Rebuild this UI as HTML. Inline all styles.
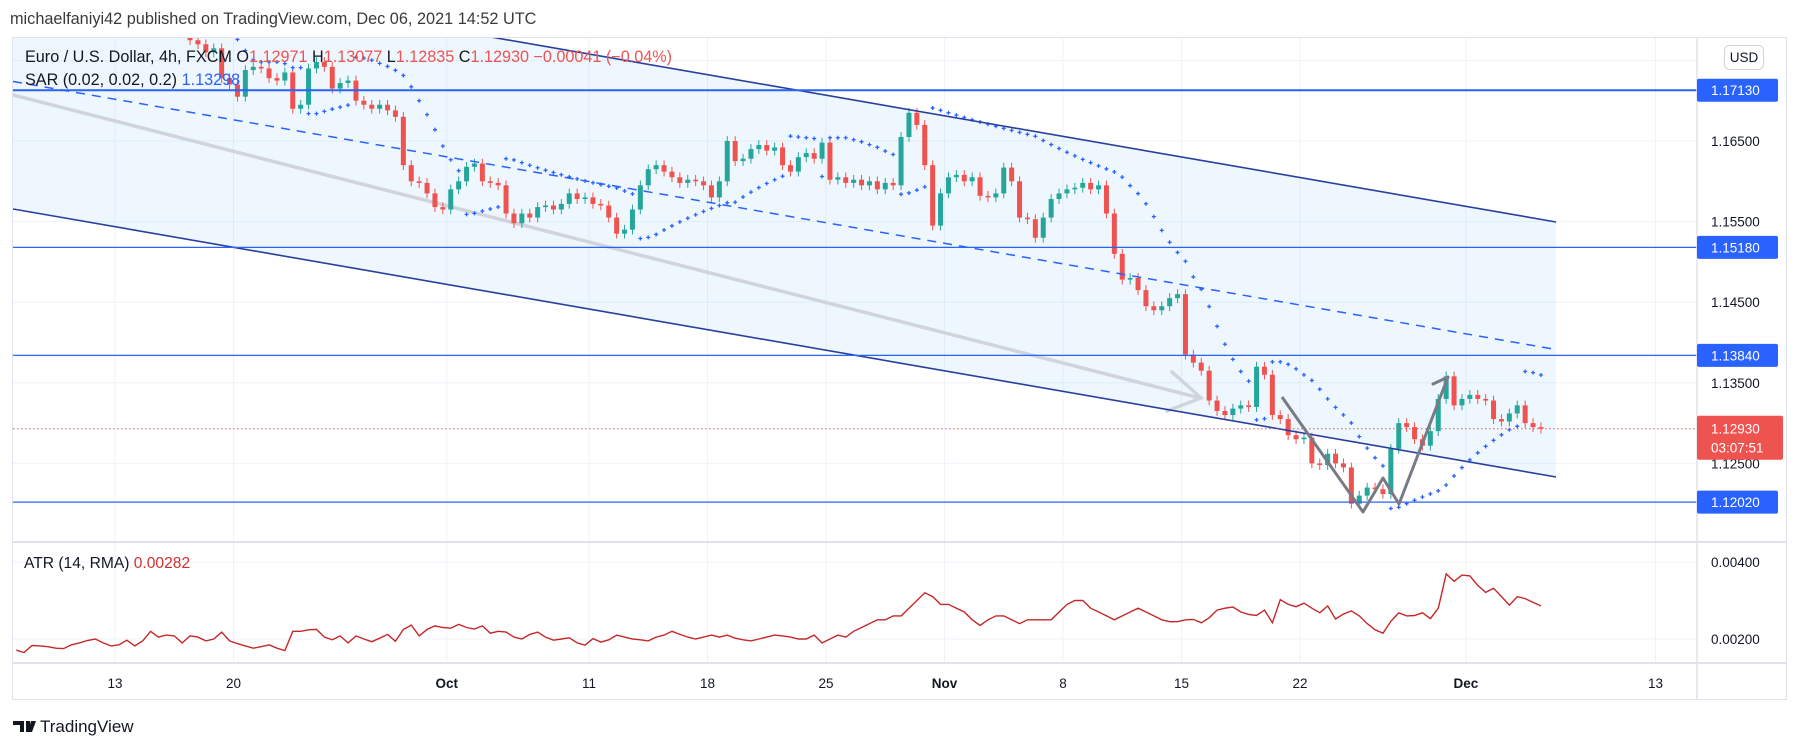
<!DOCTYPE html>
<html><head><meta charset="utf-8"><title>EURUSD 4h</title>
<style>
html,body{margin:0;padding:0;background:#fff;}
svg{display:block;font-family:"Liberation Sans",sans-serif;}
</style></head>
<body>
<svg id="chart" width="1801" height="747" viewBox="0 0 1801 747" xmlns="http://www.w3.org/2000/svg">
<defs>
<clipPath id="mainClip"><rect x="13" y="38" width="1684" height="504"/></clipPath>
<clipPath id="atrClip"><rect x="13" y="542" width="1684" height="121"/></clipPath>
</defs>
<text x="10" y="24" font-size="16.3" fill="#3a3a3a">michaelfaniyi42 published on TradingView.com, Dec 06, 2021 14:52 UTC</text>
<rect x="12.5" y="37.5" width="1774" height="662" fill="#fff" stroke="#e0e3eb"/>
<g id="grid"></g>
<g id="drawBack" clip-path="url(#mainClip)"></g>
<g id="candles" clip-path="url(#mainClip)"></g>
<g id="sar" clip-path="url(#mainClip)"></g>
<g id="drawFront" clip-path="url(#mainClip)"></g>
<g id="atrG" clip-path="url(#atrClip)"></g>
<line x1="13" y1="542" x2="1786" y2="542" stroke="#e0e3eb" stroke-width="2"/>
<line x1="13" y1="663" x2="1786" y2="663" stroke="#e0e3eb" stroke-width="2"/>
<line x1="1697" y1="38" x2="1697" y2="699" stroke="#e0e3eb" stroke-width="1.5"/>
<g id="axes"></g>
<g font-size="16.2">
<text x="25" y="62" fill="#131722">Euro / U.S. Dollar, 4h, FXCM  O<tspan fill="#ef5350">1.12971</tspan>  H<tspan fill="#ef5350">1.13077</tspan>  L<tspan fill="#ef5350">1.12835</tspan>  C<tspan fill="#ef5350">1.12930  −0.00041 (−0.04%)</tspan></text>
<text x="25" y="85" fill="#131722">SAR (0.02, 0.02, 0.2)  <tspan fill="#2962ff">1.13298</tspan></text>
<text x="24" y="568" fill="#131722" font-size="15.6">ATR (14, RMA)  <tspan fill="#d32f2f">0.00282</tspan></text>
</g>
<g>
<rect x="1724.5" y="45.5" width="39" height="24" rx="5" fill="#fff" stroke="#d1d4dc"/>
<text x="1744" y="62" font-size="13.5" fill="#131722" text-anchor="middle">USD</text>
</g>
<g>
<path d="M13 721h11v11h-4v-7h-7z M26 721h4v11h-4z M31 721h5l-4 11h-4z" fill="#131722"/>
<text x="40" y="732" font-size="17" fill="#131722">TradingView</text>
</g>
</svg>
<script>
const closes=[1.1855,1.1850,1.1845,1.1840,1.1825,1.1815,1.1825,1.1830,1.1835,1.1820,1.1830,1.1825,1.1815,
1.1800,1.1805,1.1795,1.1810,1.1800,1.1805,1.1815,1.1810,1.1800,
1.1775,1.1770,1.1760,1.1765,1.1728,1.1720,1.1705,1.1738,1.1742,1.1740,1.1728,1.1725,1.1735,1.1690,1.1695,1.1740,1.1748,1.1742,1.1715,1.1722,1.1725,1.1700,1.1695,1.1690,1.1695,1.1688,1.1680,1.1620,1.1600,1.1598,1.1585,1.1568,1.1565,1.1590,1.1600,1.1618,1.1622,1.1600,1.1598,1.1595,1.1560,1.1548,1.1560,
1.1555,1.1568,1.1570,1.1565,1.1572,1.1585,1.1578,
1.1580,1.1572,1.1570,1.1555,1.1535,1.1540,
1.1565,1.1595,1.1615,1.1620,1.1612,
1.1605,1.1598,1.1602,1.1600,1.1595,
1.1580,1.1600,1.1650,1.1625,1.1628,
1.1640,1.1645,1.1638,1.1642,1.1620,1.1612,
1.1630,1.1635,1.1628,1.1648,1.1602,
1.1605,1.1598,1.1602,1.1595,1.1600,1.1590,1.1598,1.1595,
1.1655,1.1685,1.1670,1.1620,1.1545,1.1585,1.1605,
1.1608,1.1600,1.1605,1.1582,1.1580,1.1585,1.1617,1.1600,1.1555,1.1553,1.1530,1.1555,
1.1578,1.1585,1.1590,1.1592,1.1598,1.1590,1.1595,1.1560,1.1510,1.1478,1.1480,1.1465,
1.1445,1.1440,1.1445,1.1455,1.1460,1.1385,1.1375,1.1365,1.1328,1.1315,1.1310,1.1318,
1.1322,1.1320,1.1370,1.1360,1.1310,1.1305,1.1285,1.1280,1.1282,1.1250,1.1248,1.1262,
1.1250,1.1245,1.1200,1.1210,1.1220,1.1218,1.1212,1.1268,1.1300,1.1295,1.1280,1.1272,1.1290,
1.1330,1.1358,1.1322,1.1330,1.1335,1.1330,1.1328,1.1305,1.1302,1.1312,1.1322,1.1300,1.1295,1.1293];
const atrValues=[.00171,.00165,.00183,.00182,.0018,.00176,.00175,.00185,.0019,.00196,.002,.0019,.00182,.00185,.00197,.00182,.00195,.0022,.00205,.0021,.00208,.0019,.00208,.00205,.00195,.002,.00218,.00195,.00188,.00182,.00176,.0018,.00185,.00176,.0017,.0022,.0022,.00224,.00225,.00205,.00198,.00208,.0019,.00208,.002,.00193,.00202,.00212,.00194,.00225,.00236,.00208,.00225,.00234,.0023,.00228,.00238,.0023,.00226,.00234,.00215,.0022,.00218,.00205,.002,.00212,.00218,.00205,.00197,.002,.00203,.0019,.00184,.00201,.00192,.00198,.0021,.00205,.002,.00198,.00195,.00205,.0021,.0022,.00212,.00205,.002,.00205,.0021,.00205,.0021,.00202,.00198,.00195,.002,.00205,.0021,.00208,.00205,.002,
.002,.0021,.0019,.002,.0021,.00205,.0022,.0023,.0024,.0025,.0025,.0026,.0026,.0028,.003,.0032,.0031,.0029,.0029,.0028,.0027,.0025,.00235,.0025,.0026,.0026,.0025,.0024,.0025,.0025,.0025,.0025,.0027,.0029,.003,.003,.0028,.0027,.0026,.0025,.0026,.0027,.0028,.0027,.0026,.0025,.00245,.00245,.0025,.00251,.00242,.00255,.00275,.0028,.00283,.0027,.00264,.00261,.00275,.00242,.00302,.0029,.00284,.00293,.0028,.00268,.00286,.00252,.00265,.00273,.0026,.0024,.00224,.00215,.00246,.00268,.0026,.00261,.00268,.00253,.0028,.00369,.0035,.00366,.00364,.00339,.00321,.00332,.0031,.00288,.0031,.00305,.00295,.00286];
const levels=[1.1713,1.1518,1.1384,1.1202];
const levelLabels=["1.17130","1.15180","1.13840","1.12020"];
const priceTicks=[1.175,1.165,1.155,1.145,1.135,1.125];
const priceTickLabels=["1.17500","1.16500","1.15500","1.14500","1.13500","1.12500"];
const atrTicks=[0.004,0.002];
const atrTickLabels=["0.00400","0.00200"];
const dateLabels=["13","20","Oct","11","18","25","Nov","8","15","22","Dec","13"];
const dateIndex=[12.5,27.5,54.5,72.5,87.5,102.5,117.5,132.5,147.5,162.5,183.5,207.5];
const lastPrice=1.1293;

const NS="http://www.w3.org/2000/svg";
const xOf=i=>115+(i-12.5)*7.9;
const yP=p=>141+(1.165-p)*8060;
const yA=v=>562+(0.004-v)*38500;
function mk(tag,attrs,parent){const e=document.createElementNS(NS,tag);for(const k in attrs)e.setAttribute(k,attrs[k]);parent.appendChild(e);return e;}
const $=id=>document.getElementById(id);

const grid=$('grid');
priceTicks.forEach(p=>{const l=mk('line',{x1:13,x2:1697,y1:yP(p),y2:yP(p),stroke:'#f0f3fa'},grid);

});
atrTicks.forEach(v=>{const l=mk('line',{x1:13,x2:1697,y1:yA(v),y2:yA(v),stroke:'#f0f3fa'},grid);

});
dateIndex.forEach(i=>{const l=mk('line',{x1:xOf(i),x2:xOf(i),y1:38,y2:663,stroke:'#f0f3fa'},grid);

});

const db=$('drawBack');
const up=[[13,-46],[1556,222]], lo=[[13,209],[1556,477]];
const fill=mk('polygon',{points:`${up[0]} ${up[1]} ${lo[1]} ${lo[0]}`,fill:'rgba(33,150,243,0.075)'},db);


const ga=mk('path',{d:'M13 95 L1200 398 M1172 372 L1201 398 L1167 411',stroke:'#d1d4dc',fill:'none','stroke-width':3.5,'stroke-linecap':'round'},db);



const cg=$('candles');
closes.forEach((c,i)=>{
 const o=i?closes[i-1]:c; const x=xOf(i);
 const hi=Math.max(o,c)+0.0006, lw=Math.min(o,c)-0.0006;
 const col=c>=o?'#26a69a':'#ef5350';
 const g=mk('g',{},cg);
 
 
 mk('line',{x1:x,x2:x,y1:yP(hi),y2:yP(lw),stroke:col,'stroke-width':1},g);
 const top=yP(Math.max(o,c)), h=Math.max(1,yP(Math.min(o,c))-top);
 mk('rect',{x:x-2.5,y:top,width:5,height:h,fill:col},g);
});

(function(){
 const H=closes.map((c,i)=>Math.max(c,i?closes[i-1]:c)+0.0006);
 const L=closes.map((c,i)=>Math.min(c,i?closes[i-1]:c)-0.0006);
 let upT=false, sar=H[0], ep=L[0], af=0.02; const out=[sar];
 for(let i=1;i<closes.length;i++){
  sar=sar+af*(ep-sar);
  if(upT){ sar=Math.min(sar,L[i-1],i>1?L[i-2]:L[i-1]);
   if(L[i]<sar){upT=false;sar=ep;ep=L[i];af=0.02;}
   else if(H[i]>ep){ep=H[i];af=Math.min(0.2,af+0.02);} }
  else { sar=Math.max(sar,H[i-1],i>1?H[i-2]:H[i-1]);
   if(H[i]>sar){upT=true;sar=ep;ep=H[i];af=0.02;}
   else if(L[i]<ep){ep=L[i];af=Math.min(0.2,af+0.02);} }
  out.push(sar);
 }
 const sg=$('sar');
 out.forEach((s,i)=>{const x=xOf(i),y=yP(s);
  const d=mk('path',{d:`M${x-2} ${y}h4M${x} ${y-2}v4`,stroke:'#2962ff','stroke-width':1.3},sg);
  
  });
})();

const df=$('drawFront');
function ln(a,b,attrs,name){const l=mk('line',Object.assign({x1:a[0],y1:a[1],x2:b[0],y2:b[1]},attrs),df);
 
 return l;}
ln(up[0],up[1],{stroke:'#283f9e','stroke-width':1.6},'channel-upper-line');
ln(lo[0],lo[1],{stroke:'#283f9e','stroke-width':1.6},'channel-lower-line');
ln([13,81.5],[1556,349.5],{stroke:'#2962ff','stroke-width':1.5,'stroke-dasharray':'9 7'},'channel-mid-dashed');
levels.forEach((p,k)=>{ln([13,yP(p)],[1697,yP(p)],{stroke:'#2962ff','stroke-width':k===0?2:1.2},'horizontal-level-line');});
ln([13,yP(lastPrice)],[1697,yP(lastPrice)],{stroke:'#ef5350','stroke-width':1,'stroke-dasharray':'1.5 2.5'},'last-price-line');
const zz=mk('polyline',{points:'1282,397 1363,512 1383,478 1399,504 1448,377',fill:'none',stroke:'#787b86','stroke-width':3,'stroke-linejoin':'round'},df);


const zh=mk('path',{d:'M1433 384 L1448 377',stroke:'#787b86','stroke-width':3,fill:'none','stroke-linecap':'round'},df);



const ag=$('atrG');
const al=mk('polyline',{points:atrValues.map((v,i)=>`${xOf(i).toFixed(1)},${yA(v).toFixed(1)}`).join(' '),fill:'none',stroke:'#c62828','stroke-width':1.4},ag);



const ax=$('axes');
priceTicks.forEach((p,k)=>{if(k===0)return;const t=mk('text',{x:1711,y:yP(p)+5,'font-size':13.5,fill:'#131722'},ax);t.textContent=priceTickLabels[k];
 
 });
atrTicks.forEach((v,k)=>{const t=mk('text',{x:1711,y:yA(v)+5,'font-size':13.5,fill:'#131722'},ax);t.textContent=atrTickLabels[k];
 
 });
dateLabels.forEach((s,k)=>{const bold=(s==='Oct'||s==='Nov'||s==='Dec');
 const t=mk('text',{x:xOf(dateIndex[k]),y:688,'font-size':13.5,'text-anchor':'middle',fill:'#131722','font-weight':bold?'bold':'normal'},ax);t.textContent=s;
 
 });
levels.forEach((p,k)=>{const y=yP(p);
 const g=mk('g',{},ax);
 
 
 mk('rect',{x:1697,y:y-11.5,width:81,height:23,rx:2,fill:'#2962ff'},g);
 const t=mk('text',{x:1711,y:y+5,'font-size':13.5,fill:'#fff'},g);t.textContent=levelLabels[k];});
(function(){const y=yP(lastPrice);
 const g=mk('g',{},ax);
 
 
 mk('rect',{x:1697,y:y-13,width:86,height:44,rx:2,fill:'#ef5350'},g);
 const t=mk('text',{x:1711,y:y+5,'font-size':13.5,fill:'#fff'},g);t.textContent='1.12930';
 const t2=mk('text',{x:1711,y:y+24,'font-size':13.5,fill:'#fff'},g);t2.textContent='03:07:51';})();
</script>
</body></html>
